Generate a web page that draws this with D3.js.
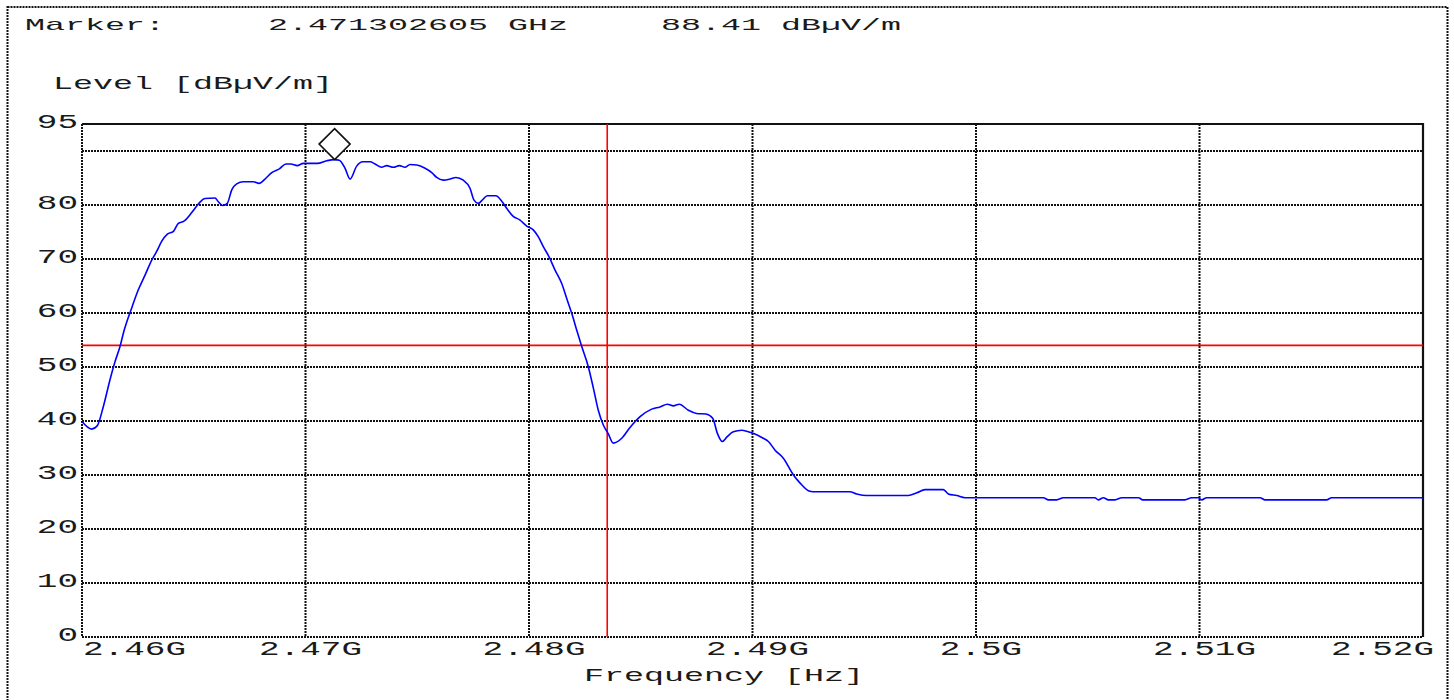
<!DOCTYPE html>
<html>
<head>
<meta charset="utf-8">
<script src="https://cdn.jsdelivr.net/npm/d3@7/dist/d3.min.js"></script>
<style>
  html, body { margin: 0; padding: 0; background: #fff; }
  svg { display: block; }
  text { font-family: "Liberation Mono", "Courier New", monospace; fill: #1a1a1a; }
</style>
</head>
<body>
<svg id="chart" width="1454" height="700"></svg>
<script>
// Measured trace: frequency (MHz) and level (dBµV/m)
const freqMHz = [
  2460.00, 2460.43, 2460.68, 2460.95, 2461.25, 2461.48, 2461.70, 2461.88, 2462.22, 2462.52,
  2462.82, 2463.12, 2463.34, 2463.57, 2463.82, 2464.09, 2464.31, 2464.56, 2464.91, 2465.25,
  2465.50, 2465.95, 2466.10, 2466.30, 2466.50, 2466.70, 2466.92, 2467.22, 2467.66, 2467.92,
  2468.19, 2468.49, 2468.83, 2469.13, 2469.34, 2469.63, 2469.90, 2470.53, 2470.95, 2471.30,
  2471.51, 2471.77, 2471.99, 2472.29, 2472.56, 2472.89, 2473.11, 2473.41, 2473.63, 2473.93,
  2474.20, 2474.45, 2474.68, 2474.98, 2475.35, 2475.65, 2475.87, 2476.17, 2476.47, 2476.73,
  2477.06, 2477.36, 2477.54, 2477.73, 2477.93, 2478.13, 2478.52, 2478.78, 2479.00, 2479.27,
  2479.60, 2479.90, 2480.19, 2480.42, 2480.64, 2480.91, 2481.16, 2481.46, 2481.71, 2481.96,
  2482.13, 2482.36, 2482.65, 2482.88, 2483.10, 2483.32, 2483.55, 2483.77, 2484.15, 2484.52,
  2484.97, 2485.49, 2485.86, 2486.19, 2486.46, 2486.72, 2487.13, 2487.50, 2487.92, 2488.22,
  2488.43, 2488.65, 2488.87, 2489.14, 2489.52, 2489.81, 2490.11, 2490.48, 2490.71, 2491.01,
  2491.38, 2491.83, 2492.13, 2492.50, 2492.72, 2494.36, 2494.66, 2495.11, 2496.97, 2497.35,
  2497.72, 2498.54, 2498.76, 2499.14, 2499.51, 2503.01, 2503.24, 2503.61, 2503.91, 2505.32,
  2505.47, 2505.70, 2505.92, 2506.22, 2506.52, 2507.27, 2507.46, 2509.35, 2509.65, 2509.95,
  2510.10, 2510.32, 2512.71, 2512.93, 2515.69, 2515.91, 2520.00
];
const levelDb = [
  39.9, 38.5, 39.1, 42.6, 47.6, 51.0, 53.8, 56.7, 60.9, 64.3,
  67.0, 69.8, 71.4, 73.3, 74.6, 75.1, 76.6, 77.0, 78.6, 80.4,
  81.2, 81.3, 80.6, 79.9, 80.3, 82.8, 83.9, 84.3, 84.3, 84.0,
  84.8, 86.0, 86.7, 87.6, 87.6, 87.3, 87.7, 87.7, 88.2, 88.41,
  88.3, 86.8, 84.8, 87.2, 88.0, 88.0, 87.6, 87.0, 87.3, 87.0,
  87.3, 87.0, 87.5, 87.4, 86.8, 86.0, 85.1, 84.6, 84.8, 85.1,
  84.6, 83.1, 80.9, 80.3, 81.0, 81.7, 81.7, 80.7, 79.4, 78.0,
  77.2, 76.1, 75.4, 74.1, 72.3, 70.3, 68.0, 65.5, 62.4, 59.3,
  56.9, 53.8, 50.1, 46.1, 42.0, 39.3, 37.6, 35.9, 36.8, 38.8,
  40.8, 42.2, 42.6, 43.1, 42.8, 43.1, 42.0, 41.4, 41.3, 40.5,
  37.7, 36.2, 37.1, 38.0, 38.3, 38.0, 37.6, 36.8, 36.2, 34.6,
  33.1, 30.0, 28.5, 27.1, 26.9, 26.9, 26.5, 26.2, 26.2, 26.7,
  27.3, 27.3, 26.5, 26.2, 25.8, 25.8, 25.4, 25.4, 25.8, 25.8,
  25.4, 25.8, 25.4, 25.4, 25.8, 25.8, 25.4, 25.4, 25.8, 25.8,
  25.4, 25.8, 25.8, 25.4, 25.4, 25.8, 25.8
];

// Axis ticks
const xTickMHz = [2460, 2470, 2480, 2490, 2500, 2510, 2520];
const xTickLabels = ["2.46G", "2.47G", "2.48G", "2.49G", "2.5G", "2.51G", "2.52G"];
const yGridDb = [10, 20, 30, 40, 50, 60, 70, 80, 90];
const yLabelDb = [0, 10, 20, 30, 40, 50, 60, 70, 80, 95];

// Marker, limit line and cursor
const markerMHz = 2471.302605;
const markerDb = 88.41;
const limitDb = 54;
const cursorMHz = 2483.5;

const svg = d3.select("#chart");
const plot = { left: 82, right: 1423, top: 124, bottom: 637 };

const x = d3.scaleLinear().domain([2460, 2520]).range([plot.left, plot.right]);
const y = d3.scaleLinear().domain([0, 95]).range([plot.bottom, plot.top]);

const dotted = "2,1";
const ink = "#111";
const charW = 20;       // monospaced advance used for headings
const tickCharW = 20.6; // monospaced advance used for tick labels

function stretchedText(sel, str, cw) {
  return sel.text(str)
    .attr("textLength", str.length * cw)
    .attr("lengthAdjust", "spacingAndGlyphs");
}

// Outer dotted frame
svg.append("rect")
  .attr("x", 7.5).attr("y", 7).attr("width", 1440).attr("height", 710)
  .attr("fill", "none").attr("stroke", ink).attr("stroke-width", 2)
  .attr("stroke-dasharray", dotted);

// Header
const header = svg.append("g").style("font-size", "17px");
stretchedText(header.append("text").attr("x", 25).attr("y", 29.5), "Marker:", charW);
stretchedText(header.append("text").attr("x", 268).attr("y", 29.5),
  (markerMHz / 1000).toFixed(9) + " GHz", charW);
stretchedText(header.append("text").attr("x", 661).attr("y", 29.5),
  markerDb.toFixed(2) + " dBµV/m", charW);

// Y axis title
stretchedText(svg.append("text").attr("x", 53).attr("y", 89).style("font-size", "18px"),
  "Level [dBµV/m]", charW);

// Horizontal grid
svg.append("g").selectAll("line").data(yGridDb).join("line")
  .attr("x1", plot.left).attr("x2", plot.right)
  .attr("y1", d => y(d)).attr("y2", d => y(d))
  .attr("stroke", ink).attr("stroke-width", 2).attr("stroke-dasharray", dotted);

// Vertical grid (inner ticks)
svg.append("g").selectAll("line").data(xTickMHz.slice(1, -1)).join("line")
  .attr("x1", d => x(d)).attr("x2", d => x(d))
  .attr("y1", plot.top).attr("y2", plot.bottom)
  .attr("stroke", ink).attr("stroke-width", 2).attr("stroke-dasharray", dotted);

// Axis lines: left and bottom dotted, top and right solid
svg.append("line").attr("x1", plot.left).attr("x2", plot.left)
  .attr("y1", plot.top).attr("y2", plot.bottom)
  .attr("stroke", ink).attr("stroke-width", 2).attr("stroke-dasharray", dotted);
svg.append("line").attr("x1", plot.left).attr("x2", plot.right)
  .attr("y1", plot.bottom).attr("y2", plot.bottom)
  .attr("stroke", ink).attr("stroke-width", 2).attr("stroke-dasharray", dotted);
svg.append("path")
  .attr("d", `M${plot.left},${plot.top}H${plot.right}V${plot.bottom}`)
  .attr("fill", "none").attr("stroke", ink).attr("stroke-width", 2.2);

// Y tick labels
const yl = svg.append("g").style("font-size", "20px").attr("text-anchor", "end");
yLabelDb.forEach(d => {
  stretchedText(yl.append("text").attr("x", 78).attr("y", y(d) + 3.5), String(d), tickCharW);
});

// X tick labels
const xl = svg.append("g").style("font-size", "20px");
xTickMHz.forEach((d, i) => {
  const t = xl.append("text").attr("y", 655);
  const label = xTickLabels[i];
  if (i === 0) t.attr("x", x(d) + 1).attr("text-anchor", "start");
  else if (i === xTickMHz.length - 1) t.attr("x", x(d) + 11).attr("text-anchor", "end");
  else t.attr("x", x(d) + 5).attr("text-anchor", "middle");
  stretchedText(t, label, tickCharW);
});

// X axis title
stretchedText(svg.append("text").attr("x", 584).attr("y", 681).style("font-size", "19px"),
  "Frequency [Hz]", charW);

// Limit line and cursor
svg.append("line")
  .attr("x1", plot.left).attr("x2", plot.right)
  .attr("y1", y(limitDb)).attr("y2", y(limitDb))
  .attr("stroke", "#ff0000").attr("stroke-width", 1.6);
svg.append("line")
  .attr("x1", x(cursorMHz)).attr("x2", x(cursorMHz))
  .attr("y1", plot.top).attr("y2", plot.bottom)
  .attr("stroke", "#ff0000").attr("stroke-width", 1.6);

// Trace
const trace = freqMHz.map((f, i) => [f, levelDb[i]]);
svg.append("path")
  .datum(trace)
  .attr("fill", "none")
  .attr("stroke", "#0000ff")
  .attr("stroke-width", 1.6)
  .attr("stroke-linejoin", "round")
  .attr("d", d3.line().x(d => x(d[0])).y(d => y(d[1])).curve(d3.curveMonotoneX));

// Marker diamond, tip resting on the marked level
const mx = x(markerMHz), my = y(markerDb), h = 15.5;
svg.append("path")
  .attr("d", `M${mx},${my}L${mx + h},${my - h}L${mx},${my - 2 * h}L${mx - h},${my - h}Z`)
  .attr("fill", "#fff").attr("stroke", ink).attr("stroke-width", 1.6);
</script>
</body>
</html>
